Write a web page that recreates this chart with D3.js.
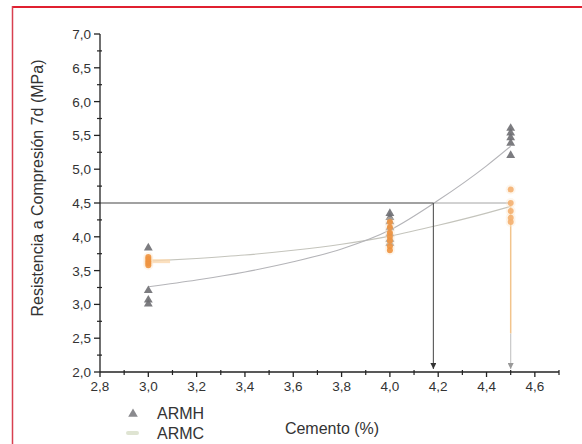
<!DOCTYPE html>
<html><head><meta charset="utf-8">
<script src="https://cdn.jsdelivr.net/npm/d3@7"></script>
<style>
html,body{margin:0;padding:0;background:#fff;}
svg{display:block;font-family:"Liberation Sans",Arial,sans-serif;}
</style></head>
<body>
<svg id="c" width="582" height="444"></svg>
<script>
// ---- data ----
const xTicks = [2.8, 3.0, 3.2, 3.4, 3.6, 3.8, 4.0, 4.2, 4.4, 4.6];
const yTicks = [2.0, 2.5, 3.0, 3.5, 4.0, 4.5, 5.0, 5.5, 6.0, 6.5, 7.0];
const armhX = [3.0, 3.0, 3.0, 3.0, 4.0, 4.0, 4.0, 4.0, 4.0, 4.0, 4.0, 4.5, 4.5, 4.5, 4.5, 4.5];
const armhY = [3.85, 3.22, 3.08, 3.02, 4.36, 4.30, 4.24, 4.15, 4.06, 3.98, 3.92, 5.62, 5.55, 5.48, 5.40, 5.22];
const armcX = [3.0, 3.0, 3.0, 3.0, 3.0, 4.0, 4.0, 4.0, 4.0, 4.0, 4.0, 4.0, 4.5, 4.5, 4.5, 4.5, 4.5];
const armcY = [3.58, 3.61, 3.64, 3.67, 3.70, 4.22, 4.14, 4.06, 4.00, 3.94, 3.86, 3.80, 4.70, 4.50, 4.38, 4.28, 4.22];
const fitX    = [3.0, 3.2, 3.4, 3.6, 3.8, 4.0, 4.2, 4.4, 4.5];
const armhFit = [3.26, 3.36, 3.48, 3.63, 3.82, 4.10, 4.54, 5.05, 5.34];
const armcFit = [3.64, 3.68, 3.73, 3.80, 3.89, 4.01, 4.17, 4.35, 4.45];
const target = 4.5;
const armhCross = 4.18;
const armcCross = 4.5;
const seriesNames = ["ARMH", "ARMC"];

// ---- chart ----
const svg = d3.select("#c");
const x = d3.scaleLinear().domain([2.8, 4.7]).range([100, 559]);
const y = d3.scaleLinear().domain([2.0, 7.0]).range([372, 34]);
const fmt = v => d3.format(".1f")(v).replace(".", ",");

// red frame
svg.append("line").attr("x1", 12.5).attr("x2", 582).attr("y1", 7).attr("y2", 7)
  .attr("stroke", "#e02030").attr("stroke-width", 2);
svg.append("line").attr("x1", 12.5).attr("x2", 12.5).attr("y1", 6).attr("y2", 444)
  .attr("stroke", "#d84050").attr("stroke-width", 1.5);

const defs = svg.append("defs");
function arrow(id, color) {
  defs.append("marker").attr("id", id).attr("viewBox", "0 0 10 10")
    .attr("refX", 5).attr("refY", 10).attr("markerWidth", 6).attr("markerHeight", 6)
    .attr("orient", "0").attr("markerUnits", "userSpaceOnUse")
    .append("path").attr("d", "M0,0 L10,0 L5,10 Z").attr("fill", color);
}
arrow("arrDark", "#333");
arrow("arrGray", "#999");

// fit curves
const line = d3.line().x((d, i) => x(fitX[i])).y(d => y(d)).curve(d3.curveMonotoneX);
svg.append("path").attr("d", line(armcFit)).attr("fill", "none")
  .attr("stroke", "#c4c4bc").attr("stroke-width", 1.1);
svg.append("path").attr("d", line(armhFit)).attr("fill", "none")
  .attr("stroke", "#b4b4b8").attr("stroke-width", 1.1);
// pale orange start of ARMC fit
svg.append("line").attr("x1", x(3.0)).attr("x2", x(3.09))
  .attr("y1", y(armcFit[0])).attr("y2", y(armcFit[0]))
  .attr("stroke", "#fbd9b0").attr("stroke-width", 4).attr("opacity", 0.8);

// annotation lines
svg.append("line").attr("x1", x(armhCross)).attr("x2", x(armcCross))
  .attr("y1", y(target)).attr("y2", y(target)).attr("stroke", "#a4a4a4").attr("stroke-width", 1);
svg.append("line").attr("x1", x(2.8)).attr("x2", x(armhCross))
  .attr("y1", y(target)).attr("y2", y(target)).attr("stroke", "#444").attr("stroke-width", 1.1);
svg.append("line").attr("x1", x(armhCross)).attr("x2", x(armhCross))
  .attr("y1", y(target)).attr("y2", y(2.0) - 3).attr("stroke", "#555").attr("stroke-width", 1.1)
  .attr("marker-end", "url(#arrDark)");
svg.append("line").attr("x1", x(armcCross)).attr("x2", x(armcCross))
  .attr("y1", y(target) + 2).attr("y2", y(2.57)).attr("stroke", "#f2c48c").attr("stroke-width", 1.5);
svg.append("line").attr("x1", x(armcCross)).attr("x2", x(armcCross))
  .attr("y1", y(2.57)).attr("y2", y(2.0) - 3).attr("stroke", "#c8c8c8").attr("stroke-width", 1.2)
  .attr("marker-end", "url(#arrGray)");

// ARMH triangles
const tri = d3.symbol().type(d3.symbolTriangle).size(34);
const armh = armhX.map((v, i) => [v, armhY[i]]);
svg.append("g").selectAll("path").data(armh).join("path")
  .attr("d", tri).attr("transform", d => `translate(${x(d[0])},${y(d[1]) + 1})`)
  .attr("fill", "#6e6e72").attr("opacity", 0.9);

// ARMC points (halo + orange)
const armc = armcX.map((v, i) => [v, armcY[i]]);
svg.append("g").selectAll("circle").data(armc).join("circle")
  .attr("cx", d => x(d[0])).attr("cy", d => y(d[1])).attr("r", 5)
  .attr("fill", "#fde6c8").attr("opacity", 0.35);
svg.append("g").selectAll("circle").data(armc).join("circle")
  .attr("cx", d => x(d[0])).attr("cy", d => y(d[1])).attr("r", 3)
  .attr("fill", (d) => d[0] === 4.5 ? "#f4b070" : "#ee9440").attr("opacity", 0.9);

// axes
const xAxis = svg.append("g").attr("transform", `translate(0,${y(2.0)})`);
xAxis.append("line").attr("x1", x(2.8)).attr("x2", x(4.7)).attr("stroke", "#222").attr("stroke-width", 1.3);
xAxis.selectAll(".mn").data(d3.range(2.9, 4.71, 0.2)).join("line")
  .attr("x1", d => x(d)).attr("x2", d => x(d)).attr("y1", -2).attr("y2", 3)
  .attr("stroke", "#222").attr("stroke-width", 1.2);
xAxis.selectAll(".mj").data(xTicks).join("line")
  .attr("x1", d => x(d)).attr("x2", d => x(d)).attr("y1", 0).attr("y2", 5)
  .attr("stroke", "#222").attr("stroke-width", 1.3);
xAxis.selectAll("text").data(xTicks).join("text")
  .attr("x", d => x(d)).attr("y", 19).attr("text-anchor", "middle")
  .attr("font-size", 13.5).attr("fill", "#333").text(fmt);

const yAxis = svg.append("g").attr("transform", `translate(${x(2.8)},0)`);
yAxis.append("line").attr("y1", y(2.0)).attr("y2", y(7.0)).attr("stroke", "#222").attr("stroke-width", 1.3);
yAxis.selectAll(".mn").data(d3.range(2.25, 7.0, 0.5)).join("line")
  .attr("y1", d => y(d)).attr("y2", d => y(d)).attr("x1", -3).attr("x2", 2)
  .attr("stroke", "#222").attr("stroke-width", 1.2);
yAxis.selectAll(".mj").data(yTicks).join("line")
  .attr("y1", d => y(d)).attr("y2", d => y(d)).attr("x1", -6).attr("x2", 0)
  .attr("stroke", "#222").attr("stroke-width", 1.3);
yAxis.selectAll("text").data(yTicks).join("text")
  .attr("x", -9).attr("y", d => y(d) + 5).attr("text-anchor", "end")
  .attr("font-size", 13.5).attr("fill", "#333").text(fmt);

// axis titles
svg.append("text").attr("transform", "translate(43,188) rotate(-90)")
  .attr("text-anchor", "middle").attr("font-size", 16).attr("fill", "#333")
  .text("Resistencia a Compresión 7d (MPa)");
svg.append("text").attr("x", 332).attr("y", 434).attr("text-anchor", "middle")
  .attr("font-size", 16).attr("fill", "#333").text("Cemento (%)");

// legend
svg.append("path").attr("d", d3.symbol().type(d3.symbolTriangle).size(40))
  .attr("transform", "translate(133,414)").attr("fill", "#8a8a8e");
svg.append("rect").attr("x", 126).attr("y", 431).attr("width", 13).attr("height", 4)
  .attr("rx", 2).attr("fill", "#dfe4d2");
svg.append("text").attr("x", 157).attr("y", 419).attr("font-size", 16).attr("fill", "#333").text(seriesNames[0]);
svg.append("text").attr("x", 157).attr("y", 439).attr("font-size", 16).attr("fill", "#333").text(seriesNames[1]);
</script>
</body></html>
